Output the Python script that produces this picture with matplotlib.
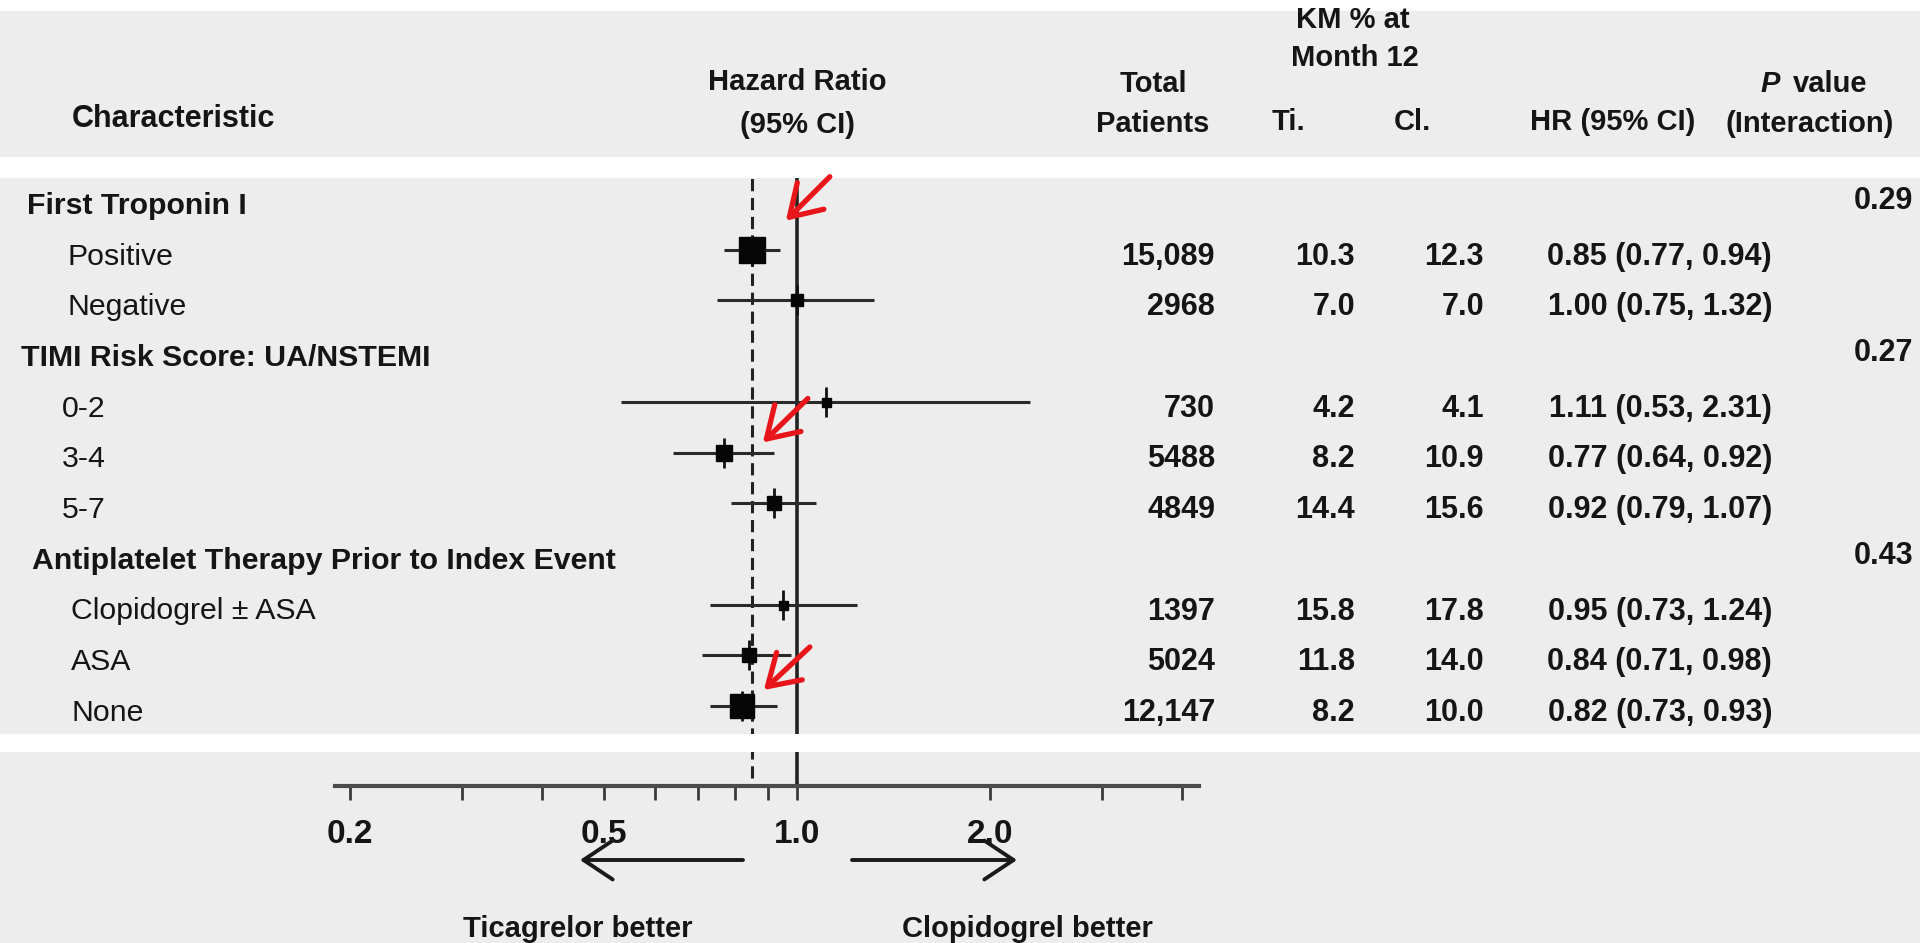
import numpy as np
import matplotlib
matplotlib.use("Agg")
import matplotlib.pyplot as plt
from matplotlib import font_manager
from matplotlib.patches import Rectangle
from matplotlib.ticker import FixedLocator, FixedFormatter, NullFormatter
import matplotlib.transforms as mtransforms

# ---------------- data ----------------
group_titles = ["First Troponin I",
                "TIMI Risk Score: UA/NSTEMI",
                "Antiplatelet Therapy Prior to Index Event"]
group_pvalues = ["0.29", "0.27", "0.43"]
subgroup_labels = [["Positive", "Negative"],
                   ["0-2", "3-4", "5-7"],
                   ["Clopidogrel \u00b1 ASA", "ASA", "None"]]
total_patients = [15089, 2968, 730, 5488, 4849, 1397, 5024, 12147]
km_ticagrelor = ["10.3", "7.0", "4.2", "8.2", "14.4", "15.8", "11.8", "8.2"]
km_clopidogrel = ["12.3", "7.0", "4.1", "10.9", "15.6", "17.8", "14.0", "10.0"]
hr = [0.85, 1.00, 1.11, 0.77, 0.92, 0.95, 0.84, 0.82]
ci_low = [0.77, 0.75, 0.53, 0.64, 0.79, 0.73, 0.71, 0.73]
ci_high = [0.94, 1.32, 2.31, 0.92, 1.07, 1.24, 0.98, 0.93]
overall_hr = 0.85
tick_values = [0.2, 0.5, 1.0, 2.0]
tick_labels = ["0.2", "0.5", "1.0", "2.0"]
minor_tick_values = [0.3, 0.4, 0.6, 0.7, 0.8, 0.9, 3.0, 4.0]
col_headers = ["Characteristic", "Hazard Ratio", "(95% CI)", "Total", "Patients",
               "KM % at", "Month 12", "Ti.", "Cl.", "HR (95% CI)", "value", "(Interaction)"]
direction_labels = ["Ticagrelor better", "Clopidogrel better"]

# ---------------- fonts ----------------
names = {f.name for f in font_manager.fontManager.ttflist}
BASE = ["Liberation Sans", "DejaVu Sans"]
if "Liberation Sans Narrow" in names:
    NARROW = ["Liberation Sans Narrow", "Liberation Sans", "DejaVu Sans"]
    num_size, head_size = 26, 25
else:
    NARROW = BASE
    num_size, head_size = 22, 21
plt.rcParams["font.family"] = BASE

W, H = 1920, 943
DPI = 100
fig = plt.figure(figsize=(W / DPI, H / DPI), dpi=DPI, facecolor="white")

GRAY = "#ededed"
INK = "#151515"

# background panels
ax_bg = fig.add_axes([0, 0, 1, 1], zorder=0)
ax_bg.set_xlim(0, W); ax_bg.set_ylim(H, 0); ax_bg.axis("off")
for (y0, y1) in [(11, 157), (178, 734), (752, H)]:
    ax_bg.add_patch(Rectangle((0, y0), W, y1 - y0, color=GRAY, lw=0))

# ---------------- forest axes ----------------
K = 640.0      # px per decade
X1 = 797.0     # px position of HR = 1
XLIM = (0.17, 4.6)
AX_TOP, AX_BOT = 178, 786
lp = X1 + K * np.log10(XLIM[0])
rp = X1 + K * np.log10(XLIM[1])
ax = fig.add_axes([lp / W, (H - AX_BOT) / H, (rp - lp) / W, (AX_BOT - AX_TOP) / H], zorder=1)
ax.set_xscale("log")
ax.set_xlim(*XLIM)
ax.set_ylim(AX_BOT, AX_TOP)
ax.patch.set_alpha(0)
for s in ["top", "right", "left"]:
    ax.spines[s].set_visible(False)
ax.spines["bottom"].set_linewidth(3.0)
ax.spines["bottom"].set_color("#4a4a4a")
ax.spines["bottom"].set_bounds(0.19, 4.25)
ax.set_yticks([])
ax.xaxis.set_major_locator(FixedLocator(tick_values))
ax.xaxis.set_major_formatter(FixedFormatter(tick_labels))
ax.xaxis.set_minor_locator(FixedLocator(minor_tick_values))
ax.xaxis.set_minor_formatter(NullFormatter())
ax.tick_params(axis="x", which="both", direction="out", length=10, width=2.0,
               color="#3a3a3a", pad=14)
for lab in ax.get_xticklabels():
    lab.set_fontsize(24); lab.set_fontweight("bold"); lab.set_color(INK)

# reference lines
ax.axvline(1.0, color="#222222", lw=2.6, zorder=2)
ax.axvline(overall_hr, ymin=(AX_BOT - 778) / (AX_BOT - AX_TOP), ymax=1,
           color="#222222", lw=2.2, linestyle=(0, (4, 2.2)), zorder=2)

# row layout
ROW0, STEP = 203.0, 50.7
rows = []  # (row index, kind, group idx, subgroup idx)
r = 0
k = 0
for g, subs in enumerate(subgroup_labels):
    rows.append((r, "title", g, None)); r += 1
    for j, s in enumerate(subs):
        rows.append((r, "sub", g, (k, j))); r += 1; k += 1

def row_y(i):
    return ROW0 + STEP * i

sub_rows = {}
for (ri, kind, g, kk) in rows:
    if kind == "sub":
        sub_rows[kk[0]] = ri

for kk in range(len(hr)):
    y = row_y(sub_rows[kk]) - 4
    ax.plot([ci_low[kk], ci_high[kk]], [y, y], color="#2a2a2a", lw=2.2,
            solid_capstyle="butt", zorder=3)
    side_px = max(9.0, 0.21 * np.sqrt(total_patients[kk]))
    ax.plot([hr[kk]], [y], marker="|", markersize=21, mew=2.0, color="#111111", zorder=4)
    ax.plot([hr[kk]], [y], marker="s", markersize=side_px * 0.72, color="#050505",
            mec="#050505", zorder=5)

# red highlight arrows (anchored to marks)
RED = "#e8161b"
arrow_specs = [  # (x value, row index, dx px, dy px (up), tail dx, tail dy)
    (hr[0], sub_rows[0], 34, 29, 44, 44),
    (overall_hr, sub_rows[3], 11, 10, 45, 44),
    (hr[7], sub_rows[7], 22, 16, 46, 43),
]
for xv, ri, dx, dy, tx, ty in arrow_specs:
    tr = mtransforms.offset_copy(ax.transData, fig=fig, x=dx, y=dy, units="dots")
    ax.annotate("", xy=(xv, row_y(ri) - 4), xycoords=tr,
                xytext=(tx, ty), textcoords="offset pixels",
                arrowprops=dict(arrowstyle="->,head_length=0.8,head_width=0.5",
                                lw=3.8, color=RED, shrinkA=0, shrinkB=0,
                                mutation_scale=27),
                zorder=6)

# ---------------- overlay (texts, stripe) ----------------
ov = fig.add_axes([0, 0, 1, 1], zorder=3)
ov.set_xlim(0, W); ov.set_ylim(H, 0); ov.axis("off"); ov.patch.set_alpha(0)
ov.add_patch(Rectangle((0, 734), W, 18, color="white", lw=0))


def put(x, yc, s, size, family=BASE, weight="normal", ha="left", style="normal"):
    cap = size * DPI / 72.0 * 0.716
    ov.text(x, yc + cap / 2.0, s, fontsize=size, family=family, weight=weight,
            ha=ha, va="baseline", color=INK, fontstyle=style)

# column headers
hf = dict(family=NARROW, weight="bold")
put(72, 116, col_headers[0], head_size + 1, ha="left", **hf)
put(797, 80, col_headers[1], head_size, ha="center", **hf)
put(798, 123, col_headers[2], head_size, ha="center", **hf)
put(1153, 82, col_headers[3], head_size, ha="center", **hf)
put(1153, 122, col_headers[4], head_size, ha="center", **hf)
put(1353, 18, col_headers[5], head_size, ha="center", **hf)
put(1355, 56, col_headers[6], head_size, ha="center", **hf)
put(1289, 120, col_headers[7], head_size, ha="center", **hf)
put(1412, 120, col_headers[8], head_size, ha="center", **hf)
put(1613, 120, col_headers[9], head_size, ha="center", **hf)
put(1760, 82, "P", head_size, ha="left", style="italic", **hf)
put(1793, 82, col_headers[10], head_size, ha="left", **hf)
put(1810, 122, col_headers[11], head_size, ha="center", **hf)

# body rows
title_x = [27, 21, 32]
sub_x = [68, 62, 71]
for (ri, kind, g, kk) in rows:
    y = row_y(ri)
    if kind == "title":
        put(title_x[g], y, group_titles[g], 21.8, weight="bold")
        put(1913, y - 5, group_pvalues[g], num_size, family=NARROW, weight="bold", ha="right")
    else:
        idx, j = kk
        put(sub_x[g], y, subgroup_labels[g][j], 21.8)
        n = total_patients[idx]
        n_txt = f"{n:,}" if n >= 10000 else str(n)
        put(1215, y, n_txt, num_size, family=NARROW, weight="bold", ha="right")
        put(1355, y, km_ticagrelor[idx], num_size, family=NARROW, weight="bold", ha="right")
        put(1484, y, km_clopidogrel[idx], num_size, family=NARROW, weight="bold", ha="right")
        hr_txt = f"{hr[idx]:.2f} ({ci_low[idx]:.2f}, {ci_high[idx]:.2f})"
        put(1772, y, hr_txt, num_size, family=NARROW, weight="bold", ha="right")

# direction arrows and labels
for (x0, x1) in [(743, 580), (852, 1017)]:
    ov.annotate("", xy=(x1, 860), xytext=(x0, 860),
                arrowprops=dict(arrowstyle="->,head_length=0.75,head_width=0.5",
                                lw=2.8, color="#1a1a1a", shrinkA=0, shrinkB=0,
                                mutation_scale=28))
put(578, 927, direction_labels[0], 21, family=NARROW, weight="bold", ha="center")
put(1027, 927, direction_labels[1], 21, family=NARROW, weight="bold", ha="center")

fig.savefig("out.png", dpi=DPI, facecolor="white")
